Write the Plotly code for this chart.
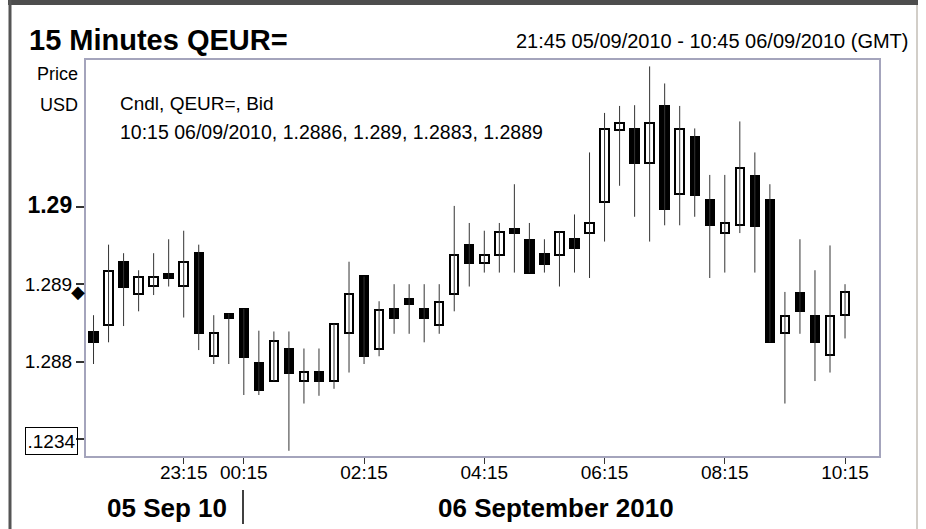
import pandas as pd
import plotly.graph_objects as go

# ---- data (15-minute candles, QEUR= Bid) ----
start_time = "2010-09-05 21:45"
open_ = [1.28838, 1.28847, 1.28928, 1.28887, 1.28898, 1.28913, 1.28898, 1.28940, 1.28807, 1.28862,
         1.28868, 1.28798, 1.28775, 1.28817, 1.28775, 1.28787, 1.28775, 1.28837, 1.28910, 1.28816,
         1.28868, 1.28881, 1.28868, 1.28847, 1.28887, 1.28950, 1.28927, 1.28938, 1.28971, 1.28957,
         1.28939, 1.28938, 1.28958, 1.28966, 1.29006, 1.29099, 1.29100, 1.29057, 1.29130, 1.29017,
         1.29090, 1.29009, 1.28966, 1.28976, 1.29040, 1.29009, 1.28837, 1.28888, 1.28859, 1.28808,
         1.2886]
high = [1.28860, 1.28951, 1.28940, 1.28918, 1.28940, 1.28958, 1.28969, 1.28951, 1.28860, 1.28862,
        1.28868, 1.28840, 1.28839, 1.28839, 1.28817, 1.28817, 1.28849, 1.28929, 1.28910, 1.28878,
        1.28900, 1.28900, 1.28900, 1.28900, 1.29001, 1.28979, 1.28969, 1.28979, 1.29029, 1.28979,
        1.28958, 1.28968, 1.28990, 1.29070, 1.29121, 1.29130, 1.29131, 1.29181, 1.29159, 1.29130,
        1.29101, 1.29041, 1.29041, 1.29110, 1.29070, 1.29029, 1.28890, 1.28958, 1.28918, 1.28950,
        1.2890]
low = [1.28797, 1.28825, 1.28846, 1.28865, 1.28886, 1.28897, 1.28857, 1.28815, 1.28797, 1.28797,
       1.28757, 1.28757, 1.28775, 1.28685, 1.28746, 1.28756, 1.28765, 1.28786, 1.28797, 1.28807,
       1.28836, 1.28836, 1.28825, 1.28836, 1.28865, 1.28897, 1.28915, 1.28915, 1.28915, 1.28915,
       1.28915, 1.28897, 1.28915, 1.28908, 1.28955, 1.29027, 1.28987, 1.28955, 1.28976, 1.28976,
       1.28987, 1.28908, 1.28915, 1.28966, 1.28915, 1.28825, 1.28746, 1.28836, 1.28775, 1.28786,
       1.2883]
close = [1.28825, 1.28917, 1.28897, 1.28909, 1.28909, 1.28908, 1.28928, 1.28837, 1.28837, 1.28857,
         1.28806, 1.28764, 1.28827, 1.28786, 1.28787, 1.28775, 1.28849, 1.28887, 1.28807, 1.28867,
         1.28857, 1.28875, 1.28857, 1.28877, 1.28938, 1.28927, 1.28938, 1.28968, 1.28966, 1.28915,
         1.28926, 1.28968, 1.28947, 1.28979, 1.29100, 1.29108, 1.29056, 1.29108, 1.28997, 1.29100,
         1.29015, 1.28976, 1.28979, 1.29050, 1.28975, 1.28825, 1.28859, 1.28865, 1.28826, 1.28859,
         1.2889]

x_tick_vals = ["2010-09-05 23:15", "2010-09-06 00:15", "2010-09-06 02:15", "2010-09-06 04:15",
               "2010-09-06 06:15", "2010-09-06 08:15", "2010-09-06 10:15"]
x_tick_text = ["23:15", "00:15", "02:15", "04:15", "06:15", "08:15", "10:15"]
y_tick_vals = [1.287, 1.288, 1.289, 1.290]
y_tick_text = ["", "1.288", "1.289", "<b><span style='font-size:23px'>1.29</span></b>"]
odd_tick_label = ".1234"

title_text = "15 Minutes QEUR="
range_text = "21:45 05/09/2010 - 10:45 06/09/2010 (GMT)"
info_line1 = "Cndl, QEUR=, Bid"
info_line2 = "10:15 06/09/2010, 1.2886, 1.289, 1.2883, 1.2889"
day1_label = "05 Sep 10"
day2_label = "06 September 2010"

times = pd.date_range(start_time, periods=len(open_), freq="15min")
FONT = "Liberation Sans, Arial, sans-serif"

# ---- layout geometry (pixels) ----
W, H = 926, 529
L, R, T, B = 86, 879, 60, 456


def px(x):
    return (x - L) / (R - L)


def py(y):
    return (B - y) / (B - T)


fig = go.Figure()

# wicks
wx, wy = [], []
for t, lo, hi in zip(times, low, high):
    wx += [t, t, None]
    wy += [lo, hi, None]
fig.add_trace(go.Scatter(x=wx, y=wy, mode="lines", line=dict(color="#333333", width=1),
                         hoverinfo="skip", showlegend=False))

# bodies
base = [min(o, c) for o, c in zip(open_, close)]
height = [abs(c - o) for o, c in zip(open_, close)]
colors = ["white" if c >= o else "black" for o, c in zip(open_, close)]
bar_ms = 0.56 * 15 * 60 * 1000
fig.add_trace(go.Bar(x=times, y=height, base=base, width=[bar_ms] * len(times),
                     marker=dict(color=colors, line=dict(color="black", width=2)),
                     showlegend=False))

x_left = times[0] - pd.Timedelta(minutes=7.5)
x_right = times[-1] + pd.Timedelta(minutes=33.9)

fig.update_layout(
    width=W, height=H,
    margin=dict(l=L, r=W - R, t=T, b=H - B),
    paper_bgcolor="white", plot_bgcolor="white",
    font=dict(family=FONT, size=19, color="black"),
    bargap=0,
    xaxis=dict(range=[x_left, x_right], showgrid=False, zeroline=False,
               tickvals=x_tick_vals, ticktext=x_tick_text,
               ticks="outside", ticklen=6, tickcolor="#333333", tickwidth=1,
               ticklabelstandoff=-8,
               showline=True, mirror=True, linecolor="#a4a4bc", linewidth=2,
               tickfont=dict(size=19)),
    yaxis=dict(range=[1.286783, 1.291893], showgrid=False, zeroline=False,
               tickvals=y_tick_vals, ticktext=y_tick_text,
               ticks="outside", ticklen=8, tickcolor="#333333", tickwidth=1.5,
               showline=True, mirror=True, linecolor="#a4a4bc", linewidth=2,
               tickfont=dict(size=19)),
)

ann = [
    dict(text=f"<b>{title_text}</b>", x=px(27), y=py(40), xanchor="left", yanchor="middle",
         font=dict(size=29)),
    dict(text=range_text, x=px(911), y=py(41), xanchor="right", yanchor="middle",
         font=dict(size=20)),
    dict(text="Price", x=px(80), y=py(74), xanchor="right", yanchor="middle", font=dict(size=18)),
    dict(text="USD", x=px(80), y=py(105), xanchor="right", yanchor="middle", font=dict(size=18)),
    dict(text=info_line1, x=px(118), y=py(103), xanchor="left", yanchor="middle", font=dict(size=19)),
    dict(text=info_line2, x=px(118), y=py(132), xanchor="left", yanchor="middle", font=dict(size=19.5)),
    dict(text=odd_tick_label, x=px(51.5), y=py(440.5), xanchor="center", yanchor="middle",
         font=dict(size=19), bordercolor="black", borderwidth=1, borderpad=1,
         width=49, height=24),
    dict(text=f"<b>{day1_label}</b>", x=px(167), y=py(508), xanchor="center", yanchor="middle",
         font=dict(size=26)),
    dict(text=f"<b>{day2_label}</b>", x=px(556), y=py(508), xanchor="center", yanchor="middle",
         font=dict(size=26)),
]
for a in ann:
    a.update(xref="paper", yref="paper", showarrow=False)
# last-price marker on the price axis
ann.append(dict(text="◆", x=px(78), xref="paper", y=close[-1], yref="y", showarrow=False,
                xanchor="center", yanchor="middle", borderpad=0,
                font=dict(size=18, color="black", family="DejaVu Sans")))
fig.update_layout(annotations=ann)

shapes = [
    # day separator
    dict(type="line", x0=px(243), x1=px(243), y0=py(490), y1=py(524), line=dict(color="black", width=1.5)),
    # outer frame: top bar, left and right borders
    dict(type="rect", x0=px(8), x1=px(918), y0=py(0), y1=py(5), fillcolor="#4d4d4d", line=dict(width=0)),
    dict(type="line", x0=px(10), x1=px(10), y0=py(0), y1=py(529), line=dict(color="#555555", width=3)),
    dict(type="line", x0=px(917), x1=px(917), y0=py(5), y1=py(529), line=dict(color="#d2cec8", width=2)),
]
for s in shapes:
    s.update(xref="paper", yref="paper", layer="above")
fig.update_layout(shapes=shapes)

fig.write_html("out.html", config={"displayModeBar": False},
               post_script="document.body.style.margin='0';document.body.style.overflow='hidden';")
